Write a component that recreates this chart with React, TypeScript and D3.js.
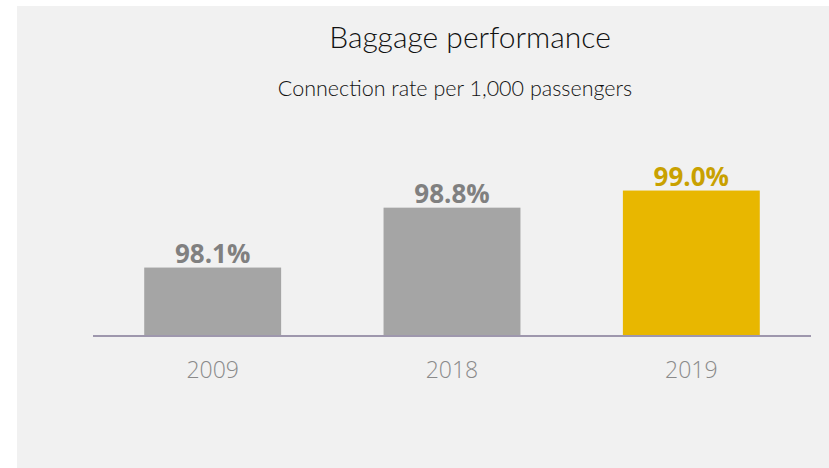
import React from "react";
import * as d3 from "d3";

const categories = ["2009", "2018", "2019"];
const values = [98.1, 98.8, 99.0];
const valueLabels = ["98.1%", "98.8%", "99.0%"];
const highlight = [false, false, true];
const title = "Baggage performance";
const subtitle = "Connection rate per 1,000 passengers";

export default function App() {
  const W = 829;
  const H = 468;
  const x = d3
    .scaleBand<string>()
    .domain(categories)
    .range([93, 811])
    .paddingInner(0.428)
    .paddingOuter(0.214);
  const y = d3.scaleLinear().domain([97.3, 100]).range([336, 105]);
  const baseY = y(97.3);

  return (
    <svg
      width={W}
      height={H}
      style={{ position: "absolute", left: 0, top: 0, display: "block" }}
    >
      <rect x={0} y={0} width={W} height={H} fill="#ffffff" />
      <rect x={17} y={6} width={W - 17} height={H - 6} fill="#f1f1f1" />
      <text
        x={470}
        y={48}
        textAnchor="middle"
        fontFamily="Lato, 'Open Sans', sans-serif"
        fontWeight={300}
        fontSize={30}
        fill="#111"
      >
        {title}
      </text>
      <text
        x={455}
        y={96}
        textAnchor="middle"
        fontFamily="Lato, 'Open Sans', sans-serif"
        fontWeight={300}
        fontSize={21.5}
        fill="#111"
      >
        {subtitle}
      </text>
      {categories.map((c, i) => {
        const bx = x(c)!;
        const bw = x.bandwidth();
        const by = y(values[i]);
        return (
          <g key={c}>
            <rect
              x={bx}
              y={by}
              width={bw}
              height={baseY - by}
              fill={highlight[i] ? "#e8b700" : "#a5a5a5"}
            />
            <text
              x={bx + bw / 2}
              y={by - 5}
              textAnchor="middle"
              fontFamily="'Open Sans', sans-serif"
              fontWeight={700}
              fontSize={26}
              fill={highlight[i] ? "#c9a100" : "#808080"}
            >
              {valueLabels[i]}
            </text>
            <text
              x={bx + bw / 2}
              y={378}
              textAnchor="middle"
              fontFamily="'Open Sans', sans-serif"
              fontWeight={300}
              fontSize={23}
              fill="#8a8a8a"
            >
              {c}
            </text>
          </g>
        );
      })}
      <line
        x1={93}
        x2={811}
        y1={baseY}
        y2={baseY}
        stroke="#9e97ad"
        strokeWidth={2}
      />
    </svg>
  );
}
